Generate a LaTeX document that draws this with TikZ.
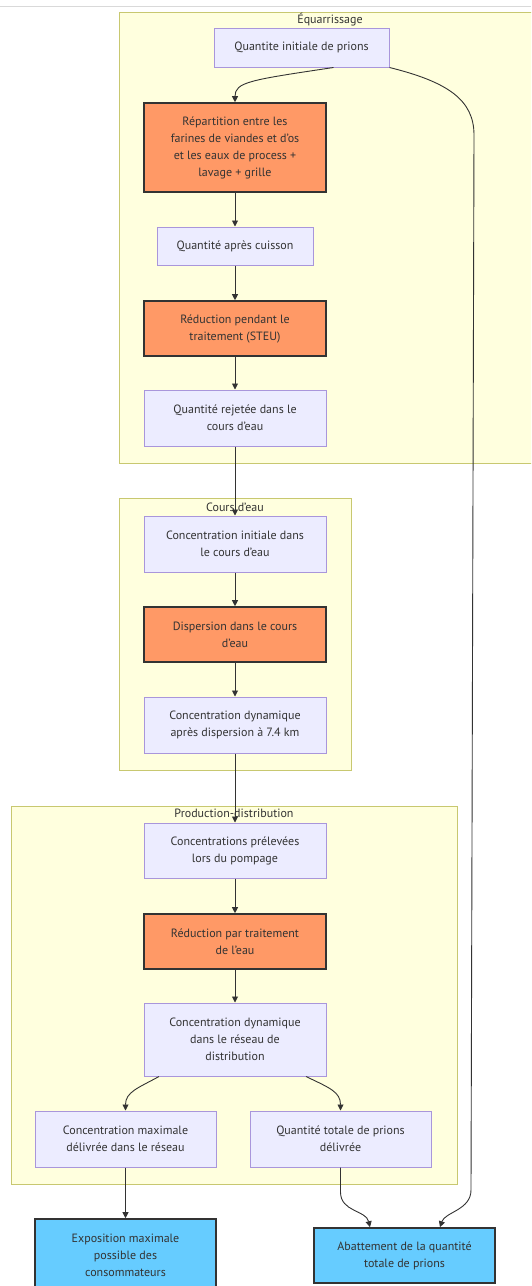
\documentclass[tikz,border=0pt]{standalone}
\usepackage{fontspec}
\setmainfont{PT Sans}
\usetikzlibrary{arrows.meta}
\definecolor{clfill}{HTML}{FFFFDE}
\definecolor{clline}{HTML}{C8C870}
\definecolor{nfill}{HTML}{ECECFF}
\definecolor{nline}{HTML}{A996DB}
\definecolor{ofill}{HTML}{FF9966}
\definecolor{bfill}{HTML}{66CCFF}
\definecolor{txt}{HTML}{333333}
\definecolor{edgec}{HTML}{333333}
\begin{document}
\begin{tikzpicture}[x=1pt,y=-1pt,
  every node/.style={font=\fontsize{12}{17}\selectfont, text=txt},
  cluster/.style={draw=clline, fill=clfill, line width=1pt},
  title/.style={inner sep=0pt, anchor=center},
  box/.style={draw=nline, fill=nfill, line width=1pt, inner sep=0pt, align=center},
  obox/.style={draw=edgec, fill=ofill, line width=1.6pt, inner sep=0pt, align=center},
  bbox/.style={draw=edgec, fill=bfill, line width=1.6pt, inner sep=0pt, align=center},
  arr/.style={draw=edgec, line width=0.9pt, -{Triangle[length=6pt,width=6pt]}},
]
\useasboundingbox (0,0) rectangle (531,1286);
\clip (0,0) rectangle (531,1286);
\fill[white] (0,0) rectangle (531,1286);
\draw[black!15, line width=1pt] (0,6) -- (531,6);

% clusters
\draw[cluster] (119,12) rectangle (545,463);
\node[title] (tEq) at (330,19.5) {Équarrissage};
\draw[cluster] (119,498) rectangle (351,770);
\node[title] (tCo) at (235,507) {Cours d'eau};
\draw[cluster] (11,806) rectangle (457,1184);
\node[title] (tPr) at (234,813) {Production-distribution};

% nodes
\node[box, minimum width=175pt, minimum height=39pt] (init) at (301.5,47.5) {Quantite initiale de prions};
\node[obox, minimum width=182pt, minimum height=89pt] (rep) at (235,147.5) {Répartition entre les\\farines de viandes et d’os\\et les eaux de process +\\lavage + grille};
\node[box, minimum width=156pt, minimum height=38pt] (cuis) at (235,246) {Quantité après cuisson};
\node[obox, minimum width=182pt, minimum height=55pt] (steu) at (235,328.5) {Réduction pendant le\\traitement (STEU)};
\node[box, minimum width=182pt, minimum height=56pt] (rej) at (235,418) {Quantité rejetée dans le\\cours d'eau};

\node[box, minimum width=182pt, minimum height=56pt] (cinit) at (235,544) {Concentration initiale dans\\le cours d'eau};
\node[obox, minimum width=182pt, minimum height=55pt] (disp) at (235,634.5) {Dispersion dans le cours\\d’eau};
\node[box, minimum width=182pt, minimum height=56pt] (cdyn) at (235,725) {Concentration dynamique\\après dispersion à 7.4 km};

\node[box, minimum width=182pt, minimum height=55pt] (prel) at (235,850.5) {Concentrations prélevées\\lors du pompage};
\node[obox, minimum width=182pt, minimum height=55pt] (reau) at (235,941.5) {Réduction par traitement\\de l'eau};
\node[box, minimum width=182pt, minimum height=73pt] (dres) at (235,1039.5) {Concentration dynamique\\dans le réseau de\\distribution};
\node[box, minimum width=181pt, minimum height=56pt] (cmax) at (125.5,1139) {Concentration maximale\\délivrée dans le réseau};
\node[box, minimum width=181pt, minimum height=56pt] (qtot) at (340.5,1139) {Quantité totale de prions\\délivrée};

\node[bbox, minimum width=181pt, minimum height=73pt] (expo) at (125.5,1255.5) {Exposition maximale\\possible des\\consommateurs};
\node[bbox, minimum width=181pt, minimum height=55pt] (abat) at (404.5,1255.5) {Abattement de la quantité\\totale de prions};

% edges
\draw[arr] ([xshift=32pt]init.south) .. controls (250,80) and (235,82) .. (rep.north);
\draw[arr] (rep.south) -- (cuis.north);
\draw[arr] (cuis.south) -- (steu.north);
\draw[arr] (steu.south) -- (rej.north);
\draw[arr] (rej.south) -- (cinit.north);
\draw[arr] (cinit.south) -- (disp.north);
\draw[arr] (disp.south) -- (cdyn.north);
\draw[arr] (cdyn.south) -- (prel.north);
\draw[arr] (prel.south) -- (reau.north);
\draw[arr] (reau.south) -- (dres.north);
\draw[arr] ([xshift=-76pt]dres.south) .. controls (138,1088) and (125.5,1092) .. (cmax.north);
\draw[arr] ([xshift=71pt]dres.south) .. controls (330,1088) and (340.5,1092) .. (qtot.north);
\draw[arr] (cmax.south) -- (expo.north);
\draw[arr] (qtot.south) -- (340.5,1192) .. controls (340.5,1212) and (366,1210) .. ([xshift=-34.5pt]abat.north);
\coordinate (railtop) at (474,135);
\coordinate (railbot) at (471,1190);
\draw[arr] (init.south east) .. controls (448,82) and (474,100) .. (railtop) -- (railbot) .. controls (471,1210) and (445,1212) .. ([xshift=35.5pt]abat.north);
\end{tikzpicture}
\end{document}
